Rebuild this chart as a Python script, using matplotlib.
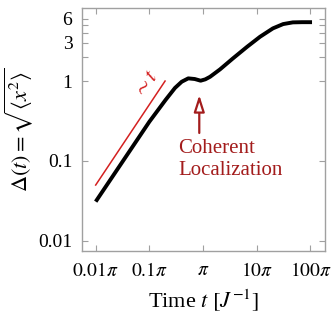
import numpy as np
import matplotlib.pyplot as plt

plt.rcParams['font.family'] = ['Liberation Serif', 'DejaVu Serif']
plt.rcParams['mathtext.fontset'] = 'stix'

# time in units of pi / J, spread Delta(t)
t_pi = [0.01, 0.03, 0.1, 0.2, 0.3, 0.4, 0.53, 0.7, 0.9, 1.1, 1.35, 2.07,
        3.6, 6.6, 11.5, 20, 31, 47, 70, 107]
delta = [0.031, 0.093, 0.31, 0.58, 0.82, 0.98, 1.08, 1.06, 1.01, 1.05, 1.13,
         1.40, 1.92, 2.68, 3.58, 4.56, 5.16, 5.42, 5.45, 5.45]

# guide line ~ t
guide_t = [0.01, 0.196]
guide_d = [0.05, 1.0]

xticks = [0.01, 0.1, 1, 10, 100]
xlabels = [r'$0.01\pi$', r'$0.1\pi$', r'$\pi$', r'$10\pi$', r'$100\pi$']
yticks = [0.01, 0.1, 1, 2, 3, 4, 5, 6]
ylabels = ['0.01', '0.1', '1', '', '3', '', '', '6']

red = '#d42020'
dark_red = '#a31c1c'
gray = '#a0a0a0'

fig = plt.figure(figsize=(3.31, 3.2), dpi=100)
ax = fig.add_axes([0.248, 0.216, 0.734, 0.759])

ax.plot(t_pi, delta, color='black', lw=2.8, solid_capstyle='butt')
ax.plot(guide_t, guide_d, color=red, lw=1.1)

ax.set_xscale('log')
ax.set_yscale('log')
ax.set_xlim(0.00558, 187)
ax.set_ylim(0.0075, 8.2)

ax.set_xticks(xticks)
ax.set_xticklabels(xlabels)
ax.set_yticks(yticks)
ax.set_yticklabels(ylabels)
ax.minorticks_off()
ax.tick_params(which='both', direction='in', top=True, right=True,
               color=gray, length=4, width=0.8, labelsize=14)
ax.tick_params(axis='x', pad=8)
ax.tick_params(axis='y', pad=7)
for s in ax.spines.values():
    s.set_color(gray)
    s.set_linewidth(1.0)

ax.set_xlabel(r'Time $t$ $[J^{-1}]$', fontsize=16, labelpad=6)
ax.set_ylabel(r'$\Delta(t) = \sqrt{\langle x^2 \rangle}$', fontsize=16,
              labelpad=2)

ax.text(0.0906, 0.89, r'$\sim t$', color=red, fontsize=16, rotation=56,
        ha='center', va='center')

ax.annotate('', xy=(0.85, 0.668), xytext=(0.85, 0.224),
            arrowprops=dict(arrowstyle='-|>,head_length=1.0,head_width=0.32',
                            fc='white', ec=dark_red, lw=1.6,
                            shrinkA=0, shrinkB=0))
ax.text(0.338, 0.145, 'Coherent', color=dark_red, fontsize=15,
        ha='left', va='center')
ax.text(0.345, 0.077, 'Localization', color=dark_red, fontsize=15,
        ha='left', va='center')

fig.savefig('out.png', dpi=100)
